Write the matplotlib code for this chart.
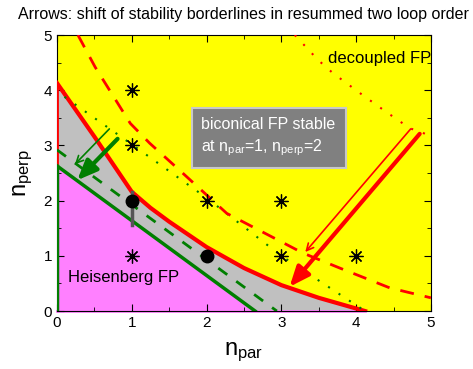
import numpy as np
import matplotlib
matplotlib.use("Agg")
from matplotlib import pyplot as plt
from matplotlib.ticker import MultipleLocator
from matplotlib.patches import Rectangle

plt.rcParams['font.family'] = ['Liberation Sans', 'DejaVu Sans']
plt.rcParams['mathtext.fontset'] = 'custom'
plt.rcParams['mathtext.rm'] = 'Liberation Sans'
plt.rcParams['mathtext.it'] = 'Liberation Sans'

# Data

# stability border of biconical FP (red solid)
red_x = [0.0, 0.5, 1.0, 1.25, 1.5, 2.0, 2.5, 3.0, 3.5, 4.12]
red_y = [4.13, 3.16, 2.16, 1.87, 1.62, 1.16, 0.78, 0.47, 0.24, 0.0]

# Heisenberg border (green solid)
green_x = [0.0, 2.65]
green_y = [2.63, 0.0]

# shifted green border (dashed)
gdash_x = [0.0, 2.94]
gdash_y = [2.92, 0.0]

# green dotted
gdot_x = [0.1, 1.0, 2.0, 3.0, 4.12]
gdot_y = [3.88, 3.02, 2.05, 1.0, 0.0]

# red dashed
rdash_x = [0.28, 0.51, 0.98, 1.24, 1.64, 2.27, 3.29, 3.78, 4.45, 5.0]
rdash_y = [5.0, 4.42, 3.4, 3.04, 2.55, 1.77, 1.05, 0.78, 0.42, 0.24]

# red dotted (decoupled FP border)
rdot_x = [3.18, 3.49, 3.69, 4.09, 4.41, 4.72, 4.88, 5.0]
rdot_y = [5.0, 4.55, 4.31, 3.91, 3.6, 3.31, 3.24, 3.15]

# asterisks and circles
star_x = [1, 1, 2, 3, 1, 3, 4]
star_y = [4, 3, 2, 2, 1, 1, 1]
dot_x = [1, 2]
dot_y = [2, 1]
err_x = [1, 1]
err_y = [1.56, 2.16]

# arrows: (start, end)
arrows_thin = [((0.70, 3.30), (0.24, 2.66), 'green'), ((4.73, 3.30), (3.32, 1.07), 'red')]
arrows_thick = [((0.81, 3.12), (0.27, 2.37), 'green'), ((4.85, 3.21), (3.11, 0.44), 'red')]

GREEN = '#007f00'
RED = '#ff0000'
colors = {'green': GREEN, 'red': RED}

fig = plt.figure(figsize=(4.73, 3.69), dpi=100)
ax = fig.add_axes([0.1205, 0.157, 0.7905, 0.748])
ax.set_facecolor('#ffff00')

# regions
ax.fill([0, green_x[0], green_x[1]], [0, green_y[0], green_y[1]], color='#ff80ff', zorder=1)
ax.fill(red_x + green_x[::-1], red_y + green_y[::-1], color='#c0c0c0', zorder=1)
ax.plot([0, red_x[-1]], [0, 0], color='#ff80ff', lw=2, zorder=1.5, clip_on=False)

# lines
ax.plot(red_x, red_y, color=RED, lw=3, zorder=3)
ax.plot([0, 0], [green_y[0], red_y[0]], color=RED, lw=2, zorder=3)
ax.plot(green_x, green_y, color=GREEN, lw=2.5, zorder=3)
ax.plot([0, 0], [0, green_y[0]], color=GREEN, lw=2.5, zorder=3)
ax.plot(gdash_x, gdash_y, color=GREEN, lw=2, ls=(0, (4, 4)), zorder=3)
ax.plot(gdot_x, gdot_y, color=GREEN, lw=1.5, ls=(0, (1, 5)), zorder=3)
ax.plot(rdash_x, rdash_y, color=RED, lw=2, ls=(0, (5, 4)), zorder=3)
ax.plot(rdot_x, rdot_y, color=RED, lw=1.5, ls=(0, (1, 5)), zorder=3)

# markers
ax.plot(err_x, err_y, color='#555555', lw=2.5, zorder=4)
ax.plot(star_x, star_y, ls='none', marker=(8, 2, 0), ms=10, mew=0.9, color='black', zorder=5)
ax.plot(dot_x, dot_y, ls='none', marker='o', ms=9, color='black', zorder=5)

# arrows
for (s, e, c) in arrows_thin:
    ax.annotate('', xy=e, xytext=s, zorder=6,
                arrowprops=dict(arrowstyle='->,head_length=0.5,head_width=0.25', color=colors[c],
                                lw=1.2, mutation_scale=10, shrinkA=0, shrinkB=0))
for (s, e, c) in arrows_thick:
    ax.annotate('', xy=e, xytext=s, zorder=6,
                arrowprops=dict(arrowstyle='-|>,head_length=0.6,head_width=0.25', color=colors[c],
                                lw=3, mutation_scale=20, shrinkA=0, shrinkB=0))

# text box
ax.add_patch(Rectangle((1.80, 2.60), 2.07, 1.07, facecolor='#808080', edgecolor='#c8c8c8',
                       lw=1.5, zorder=7))
ax.text(1.92, 3.14, 'biconical FP stable\nat n$_{par}$=1, n$_{perp}$=2', color='white',
        fontsize=11.5, ha='left', va='center', linespacing=1.35, zorder=8)
ax.text(3.62, 4.58, 'decoupled FP', fontsize=12, ha='left', va='center', zorder=7)
ax.text(0.15, 0.6, 'Heisenberg FP', fontsize=12, ha='left', va='center', zorder=7)

fig.text(0.515, 0.962, 'Arrows: shift of stability borderlines in resummed two loop order',
         fontsize=11.5, ha='center', va='center')

ax.set_xlim(0, 5)
ax.set_ylim(0, 5)
ax.xaxis.set_major_locator(MultipleLocator(1))
ax.yaxis.set_major_locator(MultipleLocator(1))
ax.xaxis.set_minor_locator(MultipleLocator(0.5))
ax.yaxis.set_minor_locator(MultipleLocator(0.5))
ax.tick_params(which='both', direction='in', top=True, right=True, labelsize=11)
ax.tick_params(which='major', length=5)
ax.tick_params(which='minor', length=3)
ax.set_xlabel('n$_{par}$', fontsize=17, labelpad=8)
ax.set_ylabel('n$_{perp}$', fontsize=17, labelpad=6)

fig.savefig('out.png', dpi=100)
